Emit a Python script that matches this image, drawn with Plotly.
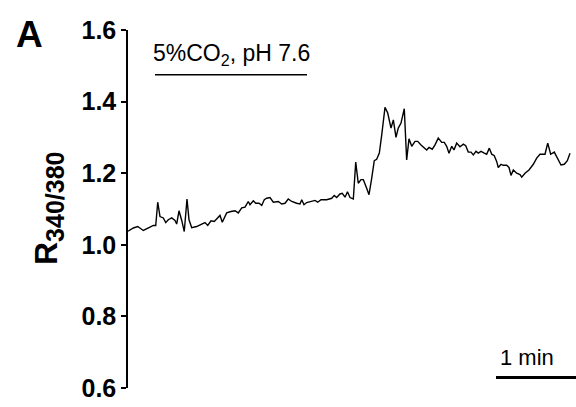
import plotly.graph_objects as go

# Fura-2 ratio trace (R340/380) over time, seconds
time_s = [0.0, 0.75, 4.0, 7.3, 11.5, 15.75, 19.0, 20.8, 22.3, 24.0, 26.5, 28.3, 30.2, 32.8,
          35.25, 36.5, 38.25, 40.3, 42.2, 44.25, 45.75, 47.8, 51.5, 55.3, 57.75, 59.8,
          62.25, 64.7, 67.3, 69.0, 70.7, 74.0, 77.25, 80.25, 82.7, 85.3, 87.75, 90.2,
          91.5, 94.0, 95.8, 98.25, 100.3, 102.2, 104.0, 106.5, 109.0, 111.5, 112.7,
          115.3, 117.75, 120.2, 122.8, 126.5, 129.0, 130.3, 132.0, 134.0, 137.8, 140.25,
          142.3, 144.75, 149.0, 152.8, 154.7, 156.5, 159.0, 160.7, 162.75, 164.6, 166.5,
          169.0, 170.8, 172.7, 174.75, 176.5, 179.0, 180.75, 182.8, 184.7, 186.5, 188.5,
          190.3, 192.75, 194.8, 197.25, 199.0, 201.0, 202.7, 204.75, 207.2, 209.0,
          210.75, 212.8, 215.25, 217.3, 219.75, 222.2, 224.0, 225.75, 228.2, 230.25,
          232.7, 235.3, 237.2, 239.0, 240.75, 242.8, 244.5, 246.5, 249.0, 251.5, 253.3,
          255.2, 257.25, 259.0, 261.0, 262.7, 264.75, 267.2, 269.0, 271.0, 272.8, 274.7,
          276.5, 277.7, 279.75, 281.5, 284.0, 285.75, 287.25, 289.0, 291.5, 294.0,
          295.3, 297.75, 300.75, 304.0, 306.5, 309.0, 312.75, 314.8, 317.0, 319.7,
          322.3, 324.75, 327.2, 329.5, 331.5]

ratio = [1.038, 1.040, 1.047, 1.051, 1.040, 1.048, 1.054, 1.054, 1.119, 1.079, 1.075, 1.062,
         1.070, 1.075, 1.068, 1.058, 1.095, 1.068, 1.037, 1.128, 1.070, 1.048, 1.051,
         1.058, 1.062, 1.054, 1.067, 1.065, 1.075, 1.082, 1.063, 1.089, 1.093, 1.095,
         1.089, 1.103, 1.105, 1.121, 1.112, 1.123, 1.116, 1.116, 1.110, 1.126, 1.130,
         1.132, 1.119, 1.119, 1.121, 1.114, 1.116, 1.128, 1.121, 1.116, 1.114, 1.126,
         1.112, 1.118, 1.121, 1.124, 1.119, 1.126, 1.126, 1.130, 1.138, 1.132, 1.142,
         1.144, 1.133, 1.148, 1.132, 1.128, 1.231, 1.172, 1.182, 1.182, 1.158, 1.140,
         1.186, 1.235, 1.239, 1.256, 1.307, 1.384, 1.368, 1.326, 1.349, 1.300, 1.326,
         1.340, 1.380, 1.237, 1.296, 1.275, 1.289, 1.289, 1.279, 1.270, 1.265, 1.272,
         1.267, 1.279, 1.298, 1.286, 1.286, 1.275, 1.256, 1.275, 1.265, 1.284, 1.274,
         1.281, 1.277, 1.259, 1.259, 1.251, 1.261, 1.256, 1.261, 1.256, 1.253, 1.270,
         1.253, 1.249, 1.233, 1.216, 1.225, 1.222, 1.222, 1.216, 1.194, 1.209, 1.200,
         1.196, 1.189, 1.200, 1.209, 1.225, 1.242, 1.253, 1.253, 1.284, 1.253, 1.259,
         1.242, 1.223, 1.225, 1.235, 1.256]

y_ticks = [0.6, 0.8, 1.0, 1.2, 1.4, 1.6]
y_tick_labels = ["0.6", "0.8", "1.0", "1.2", "1.4", "1.6"]

# Perfusion period bar and its label
co2_bar = [20.25, 134.25]
co2_bar_level = 1.475
co2_label = "5%CO<sub>2</sub>, pH 7.6"

# Time scale bar: 1 min
scale_bar = [276.0, 336.0]
scale_bar_level = 0.629
scale_label = "1 min"

FONT = "Liberation Sans, Arial, sans-serif"

fig = go.Figure()
fig.add_trace(go.Scatter(
    x=time_s, y=ratio, mode="lines",
    line=dict(color="black", width=1.4),
    showlegend=False, hoverinfo="skip",
))

# Horizontal bars (CO2 application and 1-min scale)
fig.add_trace(go.Scatter(
    x=co2_bar, y=[co2_bar_level, co2_bar_level], mode="lines",
    line=dict(color="black", width=1.6), showlegend=False, hoverinfo="skip",
    cliponaxis=False,
))
fig.add_trace(go.Scatter(
    x=scale_bar, y=[scale_bar_level, scale_bar_level], mode="lines",
    line=dict(color="black", width=3), showlegend=False, hoverinfo="skip",
    cliponaxis=False,
))

fig.add_annotation(
    x=sum(co2_bar) / 2 + 0.5, y=1.532, xref="x", yref="y",
    text=co2_label, showarrow=False,
    font=dict(family=FONT, size=23, color="black"),
    xanchor="center", yanchor="middle",
)
fig.add_annotation(
    x=299.0, y=0.684, xref="x", yref="y",
    text=scale_label, showarrow=False,
    font=dict(family=FONT, size=22, color="black"),
    xanchor="center", yanchor="middle",
)

# Y-axis title
fig.add_annotation(
    x=0, y=0.5, xref="paper", yref="paper", xshift=-80,
    text='<b>R<sub><span style="font-size:25px">340/380</span></sub></b>',
    textangle=-90, showarrow=False,
    font=dict(family=FONT, size=32, color="black"),
    xanchor="center", yanchor="middle",
)

# Panel letter
fig.add_annotation(
    x=0, y=1, xref="paper", yref="paper", xshift=-99, yshift=-4,
    text="<b>A</b>", showarrow=False,
    font=dict(family=FONT, size=37, color="black"),
    xanchor="center", yanchor="middle",
)

fig.update_xaxes(visible=False, range=[0, 336])
fig.update_yaxes(
    range=[0.6, 1.6], tickvals=y_ticks, ticktext=y_tick_labels,
    showline=True, linecolor="black", linewidth=1.5,
    ticks="outside", ticklen=5, tickwidth=1.5, tickcolor="black",
    showgrid=False, zeroline=False,
    tickfont=dict(family=FONT, size=25, color="black", weight="bold"),
)

fig.update_layout(
    width=576, height=407,
    margin=dict(l=128, r=0, t=30, b=19),
    paper_bgcolor="white", plot_bgcolor="white",
)

fig.write_html("out.html")
